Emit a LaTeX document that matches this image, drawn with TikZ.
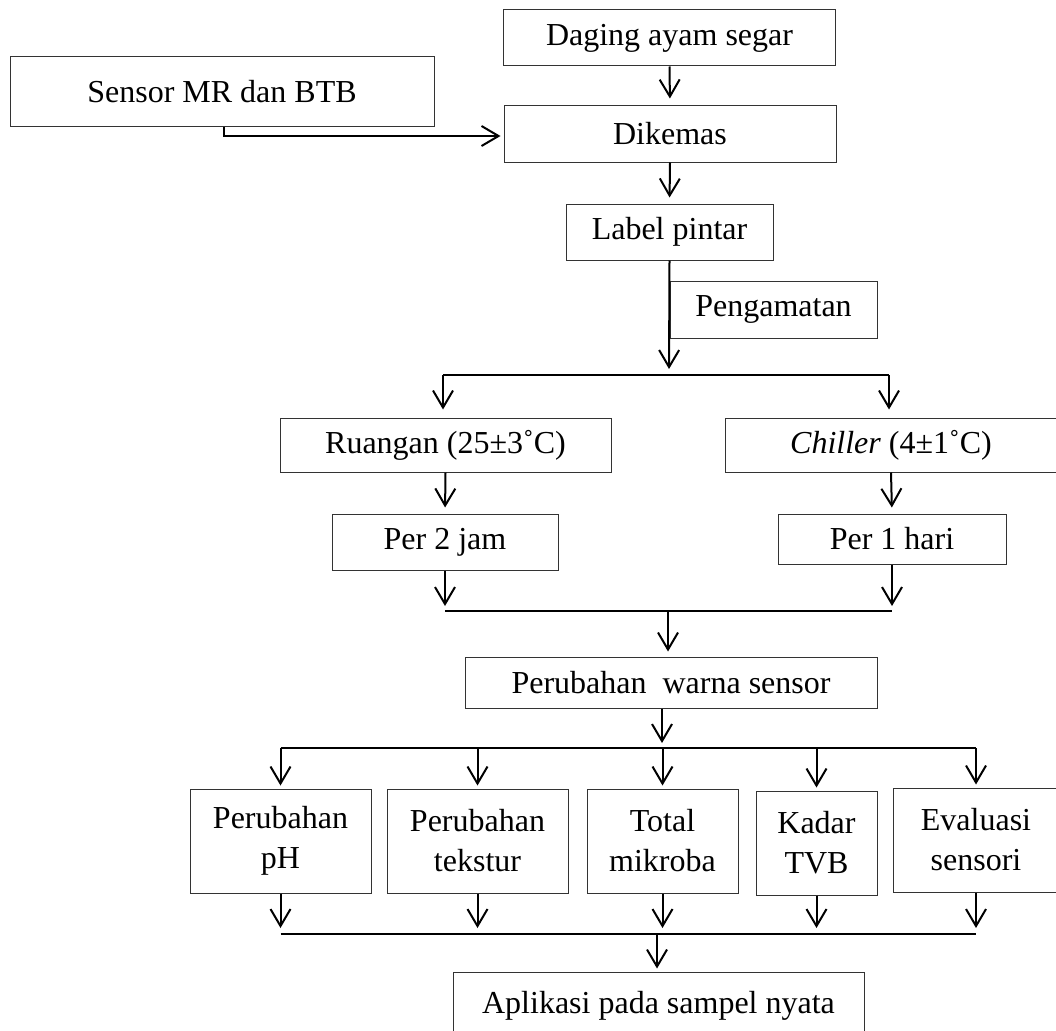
\documentclass[tikz,border=0pt]{standalone}
\usepackage{fontspec}
\setmainfont{Liberation Serif}
\usetikzlibrary{arrows.meta}

\tikzset{
  box/.style={draw=black!80, line width=1pt, inner sep=0pt, align=center,
    font=\fontsize{32}{40}\selectfont},
  conn/.style={line width=2pt, draw=black},
  arr/.style={conn, -{Straight Barb[length=17pt,width=20pt,line width=2pt]}},
}

\begin{document}
\begin{tikzpicture}[x=1pt,y=-1pt]
\clip (0,0) rectangle (1056,1030);
\fill[white] (0,0) rectangle (1056,1030);

% process boxes
\node[box, minimum width=332pt, minimum height=56pt] (daging) at (669.5,38) {Daging ayam segar};
\node[box, minimum width=424pt, minimum height=69pt] (sensor) at (222,91.5) {Sensor MR dan BTB};
\node[box, minimum width=332pt, minimum height=56pt] (dikemas) at (670,134) {Dikemas};
\node[box, minimum width=207pt, minimum height=56pt] (label) at (669.5,232) {Label pintar};
\node[box, minimum width=207pt, minimum height=57pt] (pengamatan) at (773.5,309.5) {Pengamatan};
\node[box, minimum width=331pt, minimum height=54pt] (ruangan) at (445.5,445) {Ruangan (25±3˚C)};
\node[box, minimum width=332pt, minimum height=54pt] (chiller) at (891,445) {\textit{Chiller} (4±1˚C)};
\node[box, minimum width=226pt, minimum height=56pt] (per2) at (445,542) {Per 2 jam};
\node[box, minimum width=228pt, minimum height=50pt] (per1) at (892,539) {Per 1 hari};
\node[box, minimum width=412pt, minimum height=51pt] (warna) at (671,682.5) {Perubahan\ \ warna sensor};

\node[box, minimum width=181pt, minimum height=104pt] (ph) at (280.5,841) {Perubahan\\pH};
\node[box, minimum width=181pt, minimum height=104pt] (tekstur) at (477.5,841) {Perubahan\\tekstur};
\node[box, minimum width=151pt, minimum height=104pt] (mikroba) at (662.5,841) {Total\\mikroba};
\node[box, minimum width=121pt, minimum height=104pt] (tvb) at (816.5,843) {Kadar\\TVB};
\node[box, minimum width=166pt, minimum height=104pt] (evaluasi) at (976,840) {Evaluasi\\sensori};

\node[box, minimum width=411pt, minimum height=68pt] (aplikasi) at (658.5,1006) {Aplikasi pada sampel nyata};

% junction points of the branching bars
\coordinate (split1) at (669,375);
\coordinate (splitL) at (443,375);
\coordinate (splitR) at (889,375);
\coordinate (join1) at (668,611);
\coordinate (split2) at (662,748);
\coordinate (join2) at (657,934);

% main flow
\draw[arr, shorten >=7pt] (daging.south) -- (dikemas.north);
\draw[arr, shorten >=3pt] ([xshift=2pt]sensor.south) |- ([yshift=-2pt]dikemas.west);
\draw[arr, shorten >=6pt] (dikemas.south) -- (label.north);
\draw[arr, shorten >=6pt] (label.south) -- (split1);

% split into storage conditions
\draw[conn] (splitL) -- (splitR);
\draw[arr, shorten >=8pt] (splitL) -- (ruangan.north -| splitL);
\draw[arr, shorten >=8pt] (splitR) -- (chiller.north -| splitR);
\draw[arr, shorten >=6pt] (ruangan.south) -- (per2.north);
\draw[arr, shorten >=6pt] (chiller.south) -- (per1.north);

% merge into colour change
\draw[arr, shorten >=5pt] (per2.south) -- (per2.south |- join1);
\draw[arr, shorten >=5pt] (per1.south) -- (per1.south |- join1);
\draw[conn] (per2.south |- join1) -- (per1.south |- join1);
\draw[arr, shorten >=5pt] (join1) -- (warna.north -| join1);

% split into the five analyses
\draw[arr, shorten >=5pt] (warna.south -| split2) -- (split2);
\draw[conn] (ph.north |- split2) -- (evaluasi.north |- split2);
\foreach \b in {ph,tekstur,mikroba,tvb,evaluasi}
  \draw[arr, shorten >=3pt] (\b.north |- split2) -- (\b.north);

% merge into application
\foreach \b in {ph,tekstur,mikroba,tvb,evaluasi}
  \draw[arr, shorten >=6pt] (\b.south) -- (\b.south |- join2);
\draw[conn] (ph.south |- join2) -- (evaluasi.south |- join2);
\draw[arr, shorten >=3pt] (join2) -- (aplikasi.north -| join2);
\end{tikzpicture}
\end{document}
